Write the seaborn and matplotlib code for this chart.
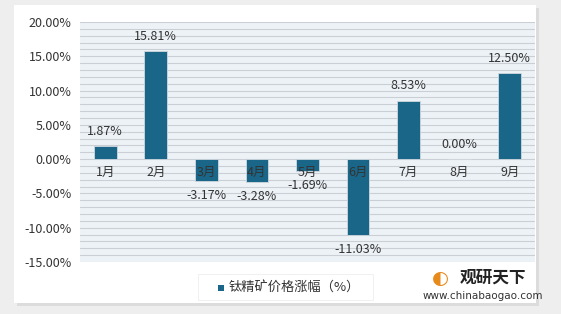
import matplotlib
matplotlib.use("Agg")
import matplotlib.pyplot as plt
import seaborn as sns
import pandas as pd
import numpy as np
from matplotlib.patches import Rectangle
from matplotlib.ticker import FuncFormatter, MultipleLocator

months = ["1月", "2月", "3月", "4月", "5月", "6月", "7月", "8月", "9月"]
values = [1.87, 15.81, -3.17, -3.28, -1.69, -11.03, 8.53, 0.00, 12.50]
series_name = "钛精矿价格涨幅（%）"

sns.set_theme(style="white")
plt.rcParams['font.family'] = ['Noto Sans CJK SC', 'DejaVu Sans']

df = pd.DataFrame({"month": months, "value": values})

fig = plt.figure(figsize=(5.61, 3.14), dpi=100)
fig.patch.set_facecolor("#eeeeee")
# white card with shadow
fig.add_artist(Rectangle((17/561, 1-306/314), 522/561, 298/314, transform=fig.transFigure,
                         facecolor="#dcdcdc", edgecolor="none", zorder=0))
fig.add_artist(Rectangle((14/561, 1-303/314), 522/561, 298/314, transform=fig.transFigure,
                         facecolor="white", edgecolor="none", zorder=0))

ax = fig.add_axes([80/561, 1-262/314, 455/561, 240/314])
ax.set_facecolor("#edf2f7")
color = "#1a6688"
sns.barplot(data=df, x="month", y="value", color=color, width=0.45, ax=ax,
            saturation=1, edgecolor="#d0d8de", linewidth=0.6, zorder=3)

ax.set_ylim(-15, 20)
ax.set_xlim(-0.5, 8.5)
ax.yaxis.set_major_locator(MultipleLocator(5))
ax.yaxis.set_major_formatter(FuncFormatter(lambda v, p: f"{v:.2f}%"))
for y in np.arange(-15, 20.01, 1):
    ax.axhline(y, color="#c9cfd5", lw=0.8, zorder=1)
for s in ax.spines.values():
    s.set_visible(False)
ax.tick_params(axis="y", labelsize=9, colors="#333333", length=0, pad=6)
ax.set_xlabel("")
ax.set_ylabel("")
ax.set_xticks([])

for i, (m, v) in enumerate(zip(months, values)):
    ax.text(i, -0.95, m, ha="center", va="top", fontsize=9, color="#333333", zorder=5)
    if v >= 0:
        ax.text(i, v + 1.2, f"{v:.2f}%", ha="center", va="bottom", fontsize=9, color="#333333", zorder=5)
    else:
        ax.text(i, v - 1.15, f"{v:.2f}%", ha="center", va="top", fontsize=9, color="#333333", zorder=5)

# legend
fig.add_artist(Rectangle((198/561, 1-300/314), 175/561, 26/314, transform=fig.transFigure,
                         facecolor="white", edgecolor="#eeeeee", lw=0.6, zorder=2))
fig.add_artist(Rectangle((218/561, 1-291/314), 6/561, 6/314, transform=fig.transFigure,
                         facecolor=color, edgecolor="none", zorder=3))
fig.text(229/561, 1-288/314, series_name, ha="left", va="center", fontsize=9.5, color="#333333")

# logo
fig.text(460/561, 1-278/314, "观研天下", ha="left", va="center", fontsize=12, fontweight="bold", color="#222222")
fig.text(423/561, 1-296/314, "www.chinabaogao.com", ha="left", va="center", fontsize=7.5, color="#333333",
         family=["DejaVu Sans"])
fig.text(440/561, 1-278/314, "◐", ha="center", va="center", fontsize=14, color="#e88a1a",
         family=["DejaVu Sans"])

fig.savefig("out.png", dpi=100, facecolor=fig.get_facecolor())
